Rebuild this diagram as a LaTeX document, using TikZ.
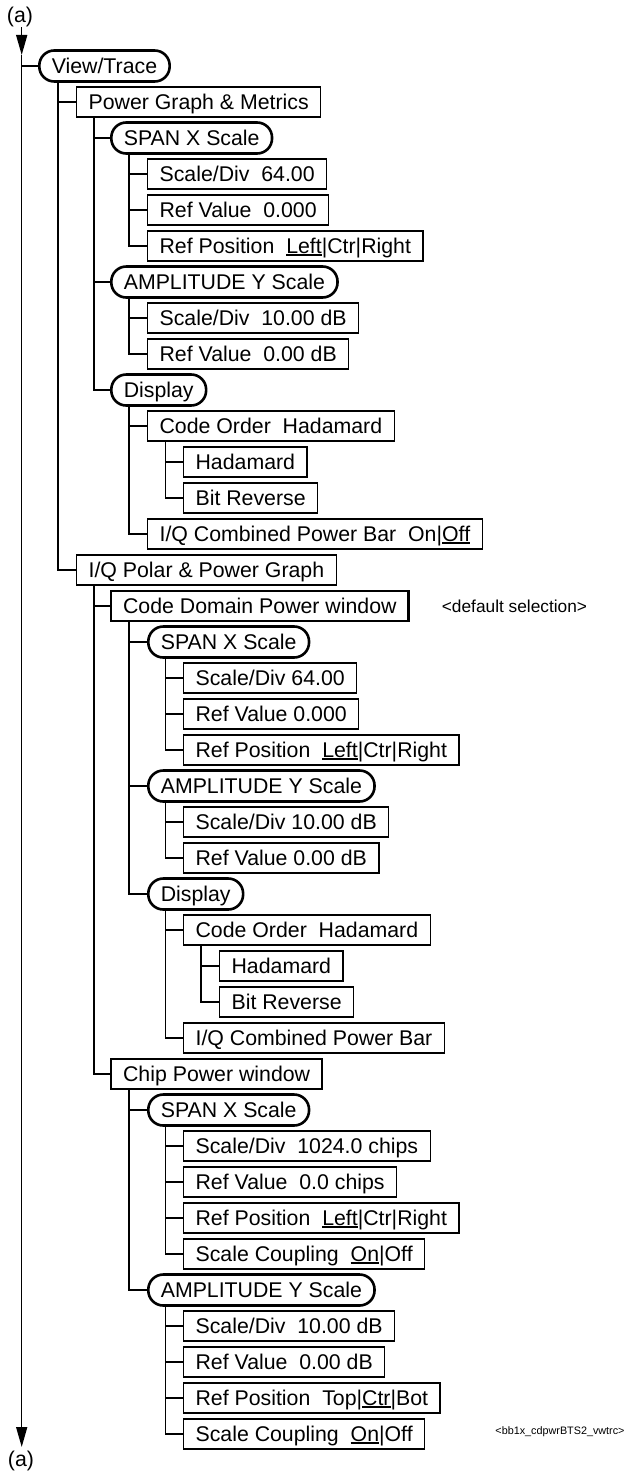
\documentclass[tikz,border=0pt]{standalone}
\usepackage{fontspec}
\setmainfont{Liberation Sans}
\usetikzlibrary{arrows.meta}
\newcommand{\myul}[1]{\setbox0\hbox{#1}\rlap{\rule[-2.2pt]{\wd0}{1.3pt}}\box0}
\newcommand{\twosp}{\ \ }
\begin{document}
\begin{tikzpicture}[x=1pt,y=-1pt,
 every node/.style={font=\fontsize{21.3}{24}\selectfont, inner sep=0pt},
 box/.style={draw, line width=1.2pt, anchor=west, text height=19.5pt, text depth=4.5pt, inner ysep=3pt, inner xsep=12pt},
 bbox/.style={box, line width=2.2pt},
 rbox/.style={box, line width=2.6pt, rounded corners=15pt, inner xsep=12.5pt, inner ysep=3.5pt},
 conn/.style={line width=1.2pt},
 mainl/.style={line width=1.5pt},
 arr/.style={-{Triangle[length=20pt,width=11pt]}}]
\useasboundingbox (0,0) rectangle (625,1474);
% x positions of the vertical lines
\coordinate (v1) at (21.7,0);
\coordinate (v2) at (58,0);
\coordinate (v3) at (94,0);
\coordinate (v4) at (129,0);
\coordinate (v5) at (165.7,0);
\coordinate (v6) at (201,0);
% (a) labels and main line
\node (atop) at (20,17) {(a)};
\node (abot) at (21,1461) {(a)};
\coordinate (tip1) at (21.7,55);
\coordinate (tip2) at (21.7,1447);
\draw[mainl,arr] (v1 |- atop.south) -- (tip1);
\draw[mainl,arr] (tip1) -- (tip2);
% nodes
\node[rbox] (vt) at (38,66) {View/Trace};
\node[box] (pg) at (76,102) {Power Graph \& Metrics};
\node[rbox] (sx1) at (110,138) {SPAN X Scale};
\node[box] (sd1) at (147,174) {Scale/Div\twosp 64.00};
\node[box] (rv1) at (147,210) {Ref Value\twosp 0.000};
\node[box] (rp1) at (147,246) {Ref Position\twosp \myul{Left}|Ctr|Right};
\node[rbox] (ay1) at (110,282) {AMPLITUDE Y Scale};
\node[box] (sd2) at (147,318) {Scale/Div\twosp 10.00 dB};
\node[box] (rv2) at (147,354) {Ref Value\twosp 0.00 dB};
\node[rbox] (dp1) at (110,390) {Display};
\node[box] (co1) at (147,426) {Code Order\twosp Hadamard};
\node[box] (hd1) at (183,462) {Hadamard};
\node[box] (br1) at (183,498) {Bit Reverse};
\node[box] (iq1) at (147,534) {I/Q Combined Power Bar\twosp On|\myul{Off}};
\node[box] (ip) at (76,570) {I/Q Polar \& Power Graph};
\node[bbox] (cd) at (110,606) {Code Domain Power window};
\node[font=\fontsize{17.3}{20}\selectfont] (ds) at (514.5,606) {<default selection>};
\node[rbox] (sx2) at (147,642) {SPAN X Scale};
\node[box] (sd3) at (183,678) {Scale/Div 64.00};
\node[box] (rv3) at (183,714) {Ref Value 0.000};
\node[box] (rp2) at (183,750) {Ref Position\twosp \myul{Left}|Ctr|Right};
\node[rbox] (ay2) at (147,786) {AMPLITUDE Y Scale};
\node[box] (sd4) at (183,822) {Scale/Div 10.00 dB};
\node[box] (rv4) at (183,858) {Ref Value 0.00 dB};
\node[rbox] (dp2) at (147,894) {Display};
\node[box] (co2) at (183,930) {Code Order\twosp Hadamard};
\node[box] (hd2) at (219,966) {Hadamard};
\node[box] (br2) at (219,1002) {Bit Reverse};
\node[box] (iq2) at (183,1038) {I/Q Combined Power Bar};
\node[bbox] (cp) at (110,1074) {Chip Power window};
\node[rbox] (sx3) at (147,1110) {SPAN X Scale};
\node[box] (sd5) at (183,1146) {Scale/Div\twosp 1024.0 chips};
\node[box] (rv5) at (183,1182) {Ref Value\twosp 0.0 chips};
\node[box] (rp3) at (183,1218) {Ref Position\twosp \myul{Left}|Ctr|Right};
\node[box] (sc1) at (183,1254) {Scale Coupling\twosp \myul{On}|Off};
\node[rbox] (ay3) at (147,1290) {AMPLITUDE Y Scale};
\node[box] (sd6) at (183,1326) {Scale/Div\twosp 10.00 dB};
\node[box] (rv6) at (183,1362) {Ref Value\twosp 0.00 dB};
\node[box] (rp4) at (183,1398) {Ref Position\twosp Top|\myul{Ctr}|Bot};
\node[box] (sc2) at (183,1434) {Scale Coupling\twosp \myul{On}|Off};
\node[font=\fontsize{10.8}{13}\selectfont] (fn) at (560,1432) {<bb1x\_cdpwrBTS2\_vwtrc>};
% connectors
\draw[conn] (v1 |- vt.west) -- (vt.west);
\draw[conn] (v2 |- vt.south) |- (ip.west);
\draw[conn] (v2 |- pg.west) -- (pg.west);
\draw[conn] (v3 |- pg.south) |- (dp1.west);
\foreach \c in {sx1,ay1} \draw[conn] (v3 |- \c.west) -- (\c.west);
\draw[conn] (v4 |- sx1.south) |- (rp1.west);
\foreach \c in {sd1,rv1} \draw[conn] (v4 |- \c.west) -- (\c.west);
\draw[conn] (v4 |- ay1.south) |- (rv2.west);
\draw[conn] (v4 |- sd2.west) -- (sd2.west);
\draw[conn] (v4 |- dp1.south) |- (iq1.west);
\draw[conn] (v4 |- co1.west) -- (co1.west);
\draw[conn] (v5 |- co1.south) |- (br1.west);
\draw[conn] (v5 |- hd1.west) -- (hd1.west);
\draw[conn] (v3 |- ip.south) |- (cp.west);
\draw[conn] (v3 |- cd.west) -- (cd.west);
\draw[conn] (v4 |- cd.south) |- (dp2.west);
\foreach \c in {sx2,ay2} \draw[conn] (v4 |- \c.west) -- (\c.west);
\draw[conn] (v5 |- sx2.south) |- (rp2.west);
\foreach \c in {sd3,rv3} \draw[conn] (v5 |- \c.west) -- (\c.west);
\draw[conn] (v5 |- ay2.south) |- (rv4.west);
\draw[conn] (v5 |- sd4.west) -- (sd4.west);
\draw[conn] (v5 |- dp2.south) |- (iq2.west);
\draw[conn] (v5 |- co2.west) -- (co2.west);
\draw[conn] (v6 |- co2.south) |- (br2.west);
\draw[conn] (v6 |- hd2.west) -- (hd2.west);
\draw[conn] (v4 |- cp.south) |- (ay3.west);
\draw[conn] (v4 |- sx3.west) -- (sx3.west);
\draw[conn] (v5 |- sx3.south) |- (sc1.west);
\foreach \c in {sd5,rv5,rp3} \draw[conn] (v5 |- \c.west) -- (\c.west);
\draw[conn] (v5 |- ay3.south) |- (sc2.west);
\foreach \c in {sd6,rv6,rp4} \draw[conn] (v5 |- \c.west) -- (\c.west);
\end{tikzpicture}
\end{document}
